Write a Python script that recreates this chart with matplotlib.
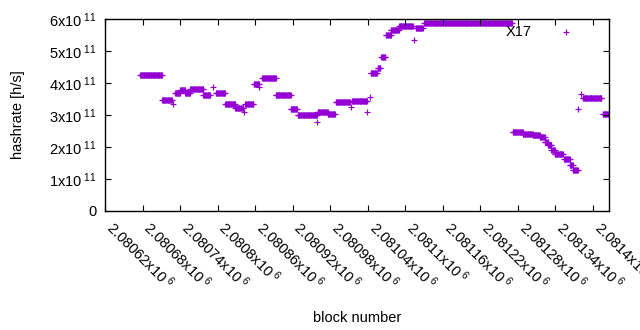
import numpy as np
import matplotlib.pyplot as plt
from matplotlib.ticker import FuncFormatter, MultipleLocator

plt.rcParams['font.family'] = 'Liberation Sans'
plt.rcParams['mathtext.fontset'] = 'custom'
plt.rcParams['mathtext.rm'] = 'Liberation Sans'
plt.rcParams['mathtext.it'] = 'Liberation Sans'

# runs of blocks with the same hashrate (first block, last block, hashrate in 1e11 h/s)
seg_start = [2080676, 2080711, 2080729, 2080732, 2080740, 2080748, 2080756, 2080777,
             2080793, 2080797, 2080812, 2080828, 2080843, 2080844, 2080858, 2080867,
             2080871, 2080893, 2080917, 2080928, 2080959, 2080960, 2080976, 2080989,
             2081013, 2081015, 2081039, 2081044, 2081045, 2081056, 2081062, 2081069,
             2081077, 2081090, 2081114, 2081117, 2081130, 2081272, 2081288, 2081304,
             2081315, 2081323, 2081328, 2081334, 2081339, 2081354, 2081363, 2081368,
             2081358, 2081376, 2081382, 2081384, 2081416]
seg_end = [2080711, 2080727, 2080729, 2080740, 2080748, 2080756, 2080777, 2080788,
           2080793, 2080812, 2080828, 2080841, 2080843, 2080857, 2080866, 2080867,
           2080893, 2080917, 2080927, 2080959, 2080959, 2080976, 2080988, 2081012,
           2081013, 2081039, 2081039, 2081044, 2081055, 2081060, 2081068, 2081077,
           2081090, 2081112, 2081114, 2081128, 2081271, 2081288, 2081304, 2081315,
           2081323, 2081328, 2081334, 2081339, 2081352, 2081363, 2081368, 2081376,
           2081358, 2081376, 2081382, 2081414, 2081426]
seg_rate = [4.24, 3.47, 3.33, 3.68, 3.78, 3.68, 3.82, 3.64,
            3.88, 3.68, 3.33, 3.22, 3.09, 3.33, 3.97, 3.88,
            4.15, 3.62, 3.18, 3.00, 2.79, 3.08, 3.04, 3.40,
            3.25, 3.43, 3.09, 3.56, 4.32, 4.48, 4.80, 5.50,
            5.66, 5.77, 5.34, 5.71, 5.875, 2.46, 2.41, 2.38,
            2.30, 2.17, 2.06, 1.91, 1.77, 1.62, 1.44, 1.28,
            5.58, 3.18, 3.66, 3.52, 3.02]

blocks = []
rates = []
for s, e, r in zip(seg_start, seg_end, seg_rate):
    for b in range(s, e + 1):
        blocks.append(b)
        rates.append(r * 1e11)

fig = plt.figure(figsize=(6.4, 3.3), dpi=100)
ax = fig.add_axes([105 / 640, 1 - 211 / 330, 504 / 640, 192 / 330])

ax.scatter(blocks, rates, marker='+', s=22, linewidths=0.85, color='#9400D3')

ax.text(2081282, 5.59e11, 'X17', ha='center', va='center', fontsize=10.5)

ax.set_xlim(2080620, 2081426)
ax.set_ylim(0, 6e11)
ax.xaxis.set_major_locator(MultipleLocator(60))
ax.yaxis.set_major_locator(MultipleLocator(1e11))
ax.xaxis.set_major_formatter(FuncFormatter(lambda v, p: f"{v / 1e6:g}x10$^{{\\ 6}}$"))
ax.yaxis.set_major_formatter(FuncFormatter(
    lambda v, p: '0' if v == 0 else f"{v / 1e11:g}x10$^{{\\ 11}}$"))

ax.tick_params(direction='in', length=4, width=0.8, top=True, right=True,
               labelsize=10.5)
ax.tick_params(axis='y', pad=6)
ax.tick_params(axis='x', pad=13)
for lab in ax.get_xticklabels():
    lab.set_rotation(-45)
    lab.set_ha('left')
    lab.set_va('baseline')
    lab.set_rotation_mode('anchor')
for sp in ax.spines.values():
    sp.set_linewidth(1)

ax.set_xlabel('block number', fontsize=10.5)
ax.set_ylabel('hashrate [h/s]', fontsize=10.5)
ax.yaxis.set_label_coords(-0.158, 0.5)
ax.xaxis.set_label_coords(0.5, -0.52)

fig.savefig('out.png', dpi=100)
